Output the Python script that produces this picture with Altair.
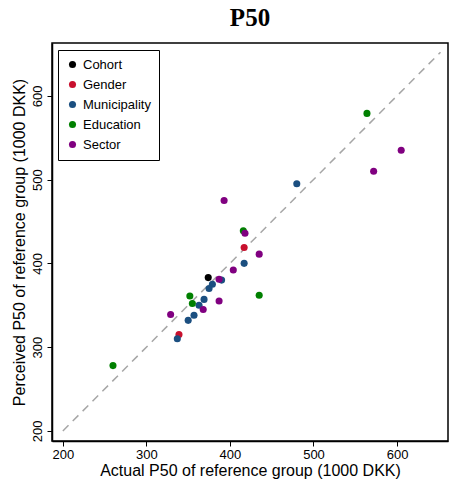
import altair as alt
import pandas as pd

groups = ["Cohort", "Gender", "Municipality", "Education", "Sector"]
colors = ["#000000", "#C8102E", "#1B4F80", "#008000", "#800080"]

cohort_x = [374]
cohort_y = [383]
gender_x = [417, 339]
gender_y = [419, 315]
muni_x = [480, 417, 390, 379, 375, 369, 363, 357, 350, 337]
muni_y = [495, 400, 380, 375, 370, 357, 350, 338, 332, 310]
edu_x = [564, 416, 352, 435, 355, 260]
edu_y = [579, 439, 361, 362, 352, 278]
sector_x = [605, 572, 393, 418, 435, 404, 387, 387, 368, 329]
sector_y = [535, 510, 475, 436, 411, 392, 381, 355, 345, 339]

rows = []
for g, xs, ys in [("Cohort", cohort_x, cohort_y), ("Gender", gender_x, gender_y),
                  ("Municipality", muni_x, muni_y), ("Education", edu_x, edu_y),
                  ("Sector", sector_x, sector_y)]:
    for a, b in zip(xs, ys):
        rows.append({"group": g, "actual": a, "perceived": b})
df = pd.DataFrame(rows)

diag = pd.DataFrame({"actual": [200, 652], "perceived": [200, 652]})

xdom = [187, 661]
ydom = [188, 663]
ticks = [200, 300, 400, 500, 600]

xscale = alt.Scale(domain=xdom, nice=False, zero=False)
yscale = alt.Scale(domain=ydom, nice=False, zero=False)

line = alt.Chart(diag).mark_line(color="#A6A6A6", strokeDash=[8, 6], strokeWidth=1.5, clip=True).encode(
    x=alt.X("actual:Q", scale=xscale),
    y=alt.Y("perceived:Q", scale=yscale),
)

pts = alt.Chart(df).mark_circle(size=50, opacity=1).encode(
    x=alt.X("actual:Q", scale=xscale,
            axis=alt.Axis(values=ticks, title="Actual P50 of reference group (1000 DKK)",
                          grid=False, tickSize=5, labelFontSize=13, titleFontSize=16,
                          labelColor="black", titleColor="black", titleFontWeight="normal",
                          domainColor="black", tickColor="black", labelPadding=2, titlePadding=1,
                          labelFont="Liberation Sans", titleFont="Liberation Sans")),
    y=alt.Y("perceived:Q", scale=yscale,
            axis=alt.Axis(values=ticks, title="Perceived P50 of reference group (1000 DKK)",
                          grid=False, tickSize=5, labelFontSize=13, titleFontSize=16,
                          labelAngle=-90, labelAlign="center", labelBaseline="bottom",
                          labelColor="black", titleColor="black", titleFontWeight="normal",
                          domainColor="black", tickColor="black", labelPadding=3, titlePadding=4,
                          labelFont="Liberation Sans", titleFont="Liberation Sans")),
    color=alt.Color("group:N", scale=alt.Scale(domain=groups, range=colors),
                    legend=alt.Legend(title=None, orient="none", legendX=6, legendY=7,
                                      strokeColor="black", padding=8, symbolType="circle",
                                      symbolSize=50, labelFontSize=13, labelFont="Liberation Sans",
                                      labelColor="black", rowPadding=6, fillColor="white",
                                      symbolStrokeWidth=0)),
)

chart = (line + pts).properties(
    width=396, height=398,
    title=alt.TitleParams("P50", font="Liberation Serif", fontSize=25, fontWeight="bold",
                          color="black", anchor="middle", offset=12),
    autosize=alt.AutoSizeParams(type="none"),
    padding={"left": 52, "top": 43, "right": 1, "bottom": 41},
).configure_view(stroke="black", strokeWidth=1.5).configure_axis(domainWidth=1.5)

chart.save("out.html", embed_options={"renderer": "svg", "actions": False})
